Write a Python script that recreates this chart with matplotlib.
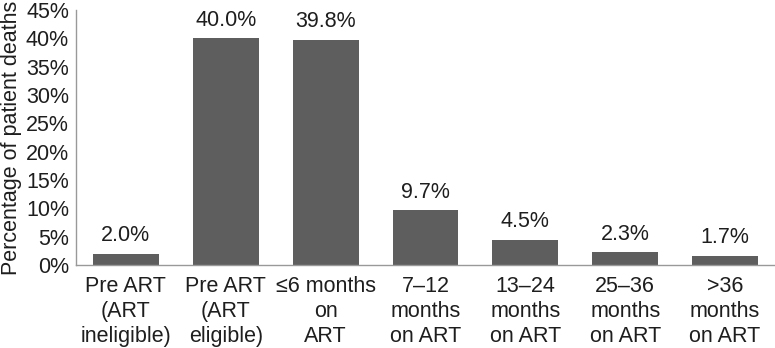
import matplotlib
matplotlib.use("Agg")
import matplotlib.pyplot as plt
from matplotlib.ticker import FuncFormatter

categories = ["Pre ART\n(ART\nineligible)", "Pre ART\n(ART\neligible)", "\u22646 months\non\nART",
              "7\u201312\nmonths\non ART", "13\u201324\nmonths\non ART", "25\u201336\nmonths\non ART",
              ">36\nmonths\non ART"]
values = [2.0, 40.0, 39.8, 9.7, 4.5, 2.3, 1.7]
yticks = [0, 5, 10, 15, 20, 25, 30, 35, 40, 45]

plt.rcParams['font.family'] = ['Liberation Sans', 'DejaVu Sans']
txt = '#1e1e1e'
fs = 15.5

fig = plt.figure(figsize=(7.75, 3.48), dpi=100)
ax = fig.add_axes([0.098, 0.238, 0.902, 0.733])
x = list(range(len(categories)))
ax.bar(x, values, width=0.66, color='#5e5e5e')
for xi, v in zip(x, values):
    ax.text(xi, v + 1.3, f"{v:.1f}%", ha='center', va='bottom', fontsize=fs, color=txt)
ax.set_xlim(-0.5, len(categories) - 0.5)
ax.set_ylim(0, 45)
ax.set_yticks(yticks)
ax.yaxis.set_major_formatter(FuncFormatter(lambda v, p: f"{int(v)}%"))
ax.set_xticks(x)
ax.set_xticklabels(categories, fontsize=fs, color=txt, linespacing=1.23)
ax.tick_params(axis='y', labelsize=fs, colors=txt, length=0, pad=5)
ax.tick_params(axis='x', length=0, pad=8)
for s in ['top', 'right']:
    ax.spines[s].set_visible(False)
for s in ['left', 'bottom']:
    ax.spines[s].set_color('#999999')
    ax.spines[s].set_linewidth(1.0)
ax.set_ylabel("Percentage of patient deaths", fontsize=fs, color=txt, labelpad=3)
fig.savefig("out.png", dpi=100)
